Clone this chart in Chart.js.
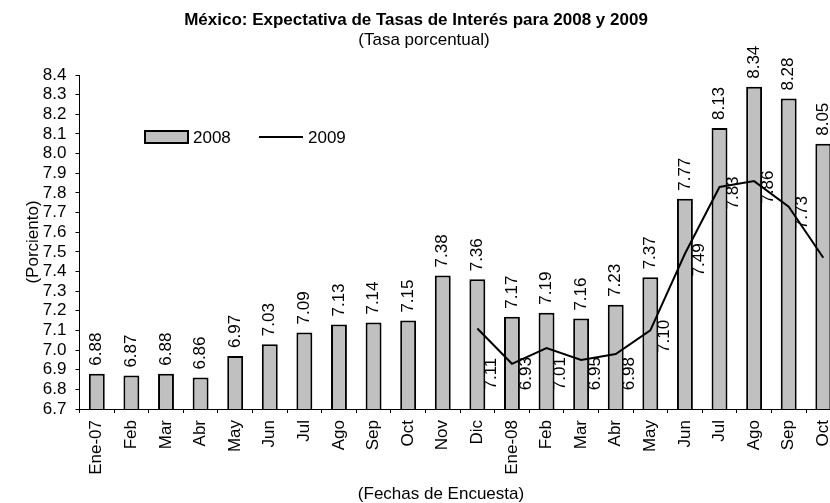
<!DOCTYPE html>
<html>
<head>
<meta charset="utf-8">
<title>México: Expectativa de Tasas de Interés</title>
<script src="https://cdn.jsdelivr.net/npm/chart.js@4.4.0/dist/chart.umd.min.js"></script>
<style>
  html, body { margin: 0; padding: 0; background: #fff; overflow: hidden; }
  #wrap { width: 830px; height: 503px; overflow: hidden; }
  canvas { display: block; }
</style>
</head>
<body>
<div id="wrap"><canvas id="rateChart" width="860" height="503"></canvas></div>
<script>
// Survey dates (x axis)
const months = ['Ene-07', 'Feb', 'Mar', 'Abr', 'May', 'Jun', 'Jul', 'Ago', 'Sep', 'Oct', 'Nov', 'Dic',
  'Ene-08', 'Feb', 'Mar', 'Abr', 'May', 'Jun', 'Jul', 'Ago', 'Sep', 'Oct'];

// Expected rate for 2008 (bars)
const rate2008 = [6.88, 6.87, 6.88, 6.86, 6.97, 7.03, 7.09, 7.13, 7.14, 7.15, 7.38, 7.36,
  7.17, 7.19, 7.16, 7.23, 7.37, 7.77, 8.13, 8.34, 8.28, 8.05];

// Expected rate for 2009 (line, starts in Dic)
const rate2009 = [null, null, null, null, null, null, null, null, null, null, null, 7.11,
  6.93, 7.01, 6.95, 6.98, 7.10, 7.49, 7.83, 7.86, 7.73, 7.47];

// Y axis range
const yMin = 6.7;
const yMax = 8.4;
const yStep = 0.1;

const FONT = '"Liberation Sans", Arial, sans-serif';
const BAR_FILL = '#c0c0c0';

Chart.defaults.color = '#000';
Chart.defaults.font.family = FONT;
Chart.defaults.font.size = 17;

// Titles, legend and value labels drawn by hand (Excel style)
const decorPlugin = {
  id: 'decor',
  afterDatasetsDraw(chart) {
    const { ctx, scales: { y } } = chart;
    ctx.save();
    ctx.fillStyle = '#000';
    ctx.font = '17px ' + FONT;

    // bar value labels, rotated, above each bar
    chart.getDatasetMeta(1).data.forEach((bar, i) => {
      ctx.save();
      ctx.translate(bar.x, bar.y - 8);
      ctx.rotate(-Math.PI / 2);
      ctx.textAlign = 'left';
      ctx.textBaseline = 'middle';
      ctx.fillText(rate2008[i].toFixed(2), 0, 0);
      ctx.restore();
    });

    // line value labels, rotated, right of each point
    // labels in the low trough (or where the line drops away) sit down near the axis
    const floorY = y.getPixelForValue(6.88);
    chart.getDatasetMeta(0).data.forEach((pt, i) => {
      const v = rate2009[i];
      if (v == null) return;
      const next = rate2009[i + 1];
      const low = v < 7.1 || (next != null && next < v && v < 7.2);
      const cy = low ? floorY : pt.y + 6;
      ctx.save();
      ctx.translate(pt.x + 14, cy);
      ctx.rotate(-Math.PI / 2);
      ctx.textAlign = 'center';
      ctx.textBaseline = 'middle';
      ctx.fillText(v.toFixed(2), 0, 0);
      ctx.restore();
    });

    // legend
    const ds = chart.data.datasets;
    ctx.fillStyle = BAR_FILL;
    ctx.fillRect(145, 131, 43, 12);
    ctx.lineWidth = 2;
    ctx.strokeStyle = '#000';
    ctx.strokeRect(145, 131, 43, 12);
    ctx.beginPath();
    ctx.moveTo(259, 137);
    ctx.lineTo(303, 137);
    ctx.stroke();
    ctx.fillStyle = '#000';
    ctx.textAlign = 'left';
    ctx.textBaseline = 'middle';
    ctx.fillText(ds[1].label, 193, 138);
    ctx.fillText(ds[0].label, 308, 138);

    // titles
    ctx.textAlign = 'center';
    ctx.font = 'bold 17px ' + FONT;
    ctx.fillText('México: Expectativa de Tasas de Interés para 2008 y 2009', 416, 20);
    ctx.font = '17px ' + FONT;
    ctx.fillText('(Tasa porcentual)', 424, 40);
    ctx.fillText('(Fechas de Encuesta)', 441, 494);
    ctx.restore();
  }
};

new Chart(document.getElementById('rateChart'), {
  type: 'bar',
  data: {
    labels: months,
    datasets: [{
      type: 'line',
      label: '2009',
      data: rate2009,
      borderColor: '#000',
      borderWidth: 2,
      pointRadius: 0,
      tension: 0,
      fill: false,
      spanGaps: false,
      order: 0
    }, {
      label: '2008',
      data: rate2008,
      backgroundColor: BAR_FILL,
      borderColor: '#000',
      borderWidth: 2,
      borderSkipped: false,
      barPercentage: 0.46,
      categoryPercentage: 1,
      order: 1
    }]
  },
  options: {
    responsive: false,
    animation: false,
    devicePixelRatio: 1,
    layout: { padding: { top: 75, right: 19.4, bottom: 0, left: 0 } },
    plugins: {
      legend: { display: false },
      title: { display: false },
      tooltip: { enabled: false }
    },
    scales: {
      x: {
        offset: true,
        grid: { display: true, offset: true, drawOnChartArea: false, drawTicks: true, tickLength: 4, color: '#000' },
        border: { display: true, color: '#000', width: 1 },
        ticks: { autoSkip: false, maxRotation: 90, minRotation: 90, padding: 7, font: { size: 17 } },
        afterFit: s => { s.height = 94; }
      },
      y: {
        min: yMin,
        max: yMax,
        grid: { drawOnChartArea: false, drawTicks: true, tickLength: 4, color: '#000' },
        border: { display: true, color: '#000', width: 1 },
        ticks: {
          stepSize: yStep,
          autoSkip: false,
          padding: 9,
          font: { size: 17, lineHeight: 1 },
          callback: v => Number(v).toFixed(1)
        },
        title: { display: true, text: '(Porciento)', font: { size: 17 }, padding: { top: 23, bottom: 0 } },
        afterFit: s => { s.width = 79.5; }
      }
    }
  },
  plugins: [decorPlugin]
});
</script>
</body>
</html>
